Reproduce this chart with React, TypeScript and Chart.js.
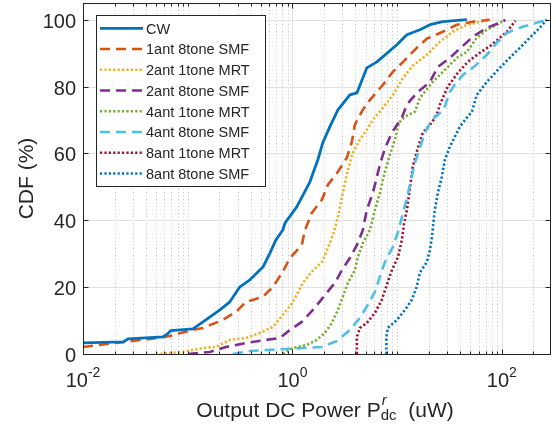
import React, { useEffect, useRef } from "react";
import { Chart, registerables } from "chart.js";

Chart.register(...registerables);

const FONT = '"Liberation Sans", Arial, Helvetica, sans-serif';
const TEXT = "#262626";

const seriesLabels = [
  "CW",
  "1ant 8tone SMF",
  "2ant 1tone MRT",
  "2ant 8tone SMF",
  "4ant 1tone MRT",
  "4ant 8tone SMF",
  "8ant 1tone MRT",
  "8ant 8tone SMF",
];
const seriesColors = ["#0072BD", "#D95319", "#EDB120", "#7E2F8E", "#77AC30", "#4DBEEE", "#A2142F", "#0072BD"];
const seriesStyles = ["solid", "dashed", "dotted", "dashed", "dotted", "dashed", "dotted", "dotted"];

const cwPower = [0.01, 0.0241, 0.0269, 0.058, 0.064, 0.069, 0.112, 0.149, 0.203, 0.253, 0.315, 0.393, 0.523, 0.61, 0.695, 0.81, 0.85, 1.1, 1.47, 1.75, 1.95, 2.28, 2.72, 3.54, 4.13, 5.14, 6.41, 9.95, 12.4, 16.5, 20.6, 27.3, 46.4];
const cwCdf = [3.3, 3.6, 4.5, 5.1, 6.0, 7.0, 7.5, 10.2, 13.2, 15.6, 20.1, 22.2, 26, 30.2, 34.1, 37.1, 39.2, 44, 51.5, 58.1, 63.2, 68, 73, 77.5, 78.1, 85.6, 87.4, 92.5, 95.5, 97, 98.5, 99.4, 100];

const smf1aPower = [0.01, 0.0206, 0.0437, 0.0678, 0.112, 0.14, 0.217, 0.289, 0.36, 0.523, 0.651, 0.81, 0.946, 1.23, 1.32, 1.53, 1.91, 2.18, 2.72, 3.31, 3.7, 3.95, 4.71, 5.5, 7.31, 9.1, 11.4, 15.4, 19.2, 27.3, 37.2, 52.8, 76.8];
const smf1aCdf = [2.1, 3.3, 4.5, 5.4, 7.2, 7.8, 10.2, 12.6, 15.6, 17.1, 20.1, 24.6, 28.7, 32.6, 37.1, 42.2, 46.1, 50.6, 54.5, 58.7, 63.5, 68.6, 73.1, 76, 80.5, 84.4, 87.4, 91.6, 94.3, 96.4, 98.5, 99.4, 100];

const mrt2aPower = [0.0498, 0.09, 0.14, 0.186, 0.253, 0.36, 0.49, 0.651, 0.81, 0.968, 1.1, 1.26, 1.53, 1.91, 2.18, 2.44, 2.72, 3.03, 3.39, 3.78, 4.41, 5.14, 5.87, 6.84, 9.1, 11.4, 14.1, 19.2, 25.6, 34.0, 46.4, 61.7, 76.8];
const mrt2aCdf = [0, 0.6, 1.8, 2.1, 4.2, 4.8, 6.3, 8.1, 11.7, 14.7, 17.7, 21.3, 24.6, 27.5, 31.7, 35.6, 41, 48.2, 55.1, 60.2, 64.1, 67.1, 70.1, 72.5, 77.5, 82.6, 86.2, 89.5, 93.4, 96.4, 98.5, 99.4, 100];

const smf2aPower = [0.1005, 0.163, 0.232, 0.36, 0.558, 0.76, 0.946, 1.23, 1.57, 1.95, 2.55, 2.97, 3.54, 4.13, 4.71, 5.14, 5.87, 6.84, 7.64, 8.91, 11.1, 12.4, 15.4, 20.6, 24.5, 31.9, 41.5, 52.8, 72.0, 102, 108];
const smf2aCdf = [0, 0.6, 2.1, 3.3, 4.2, 4.8, 7.2, 9.6, 13.2, 16.8, 21.3, 25.1, 28.7, 32.6, 37.1, 43.1, 48.2, 56.6, 61.4, 66.2, 70.7, 74.6, 78.1, 81.4, 85.9, 88.6, 91.9, 94.9, 97.6, 99.4, 100];

const mrt4aPower = [0.81, 1.01, 1.37, 1.71, 2.04, 2.38, 2.72, 3.03, 3.39, 3.95, 4.22, 4.71, 5.5, 6.14, 6.84, 7.64, 8.53, 9.52, 10.4, 11.9, 14.8, 16.5, 21.9, 29.9, 37.2, 46.4, 57.7, 72.0, 89.6, 107];
const mrt4aCdf = [0, 1.8, 2.7, 4.2, 6.3, 9.3, 13.2, 17.1, 21.3, 25.1, 29, 33.2, 37.1, 43.1, 48.2, 54.5, 59.6, 64.1, 69.2, 71, 72.5, 76.6, 81.4, 85.6, 88.6, 90.4, 94.6, 97, 98.5, 100];

const smf4aPower = [0.27, 0.393, 0.583, 0.885, 1.26, 1.91, 2.66, 3.54, 4.41, 5.26, 6.14, 6.84, 7.64, 9.1, 10.2, 12.4, 13.8, 14.8, 16.5, 18.4, 21.5, 27.9, 31.9, 36.4, 42.5, 52.8, 72.0, 89.6, 112, 158, 216, 269];
const smf4aCdf = [0, 0.9, 1.2, 1.5, 1.8, 2.1, 3.9, 7.2, 10.8, 14.7, 18.6, 23.1, 27.5, 32, 36.5, 46.7, 53, 57.2, 61.7, 66.2, 70.1, 73.1, 78.4, 81.1, 83.5, 85.6, 89.5, 93.1, 96.1, 97.9, 99.1, 100];

const mrt8aPower = [4.13, 4.13, 4.41, 5.14, 6.14, 7.14, 7.98, 8.91, 10.2, 11.1, 11.6, 12.4, 13.2, 14.1, 15.8, 17.6, 21.5, 24.5, 25.6, 30.5, 38.0, 47.3, 61.7, 80.4, 95.7, 112, 135];
const mrt8aCdf = [0, 5.1, 7.8, 9.3, 12.3, 16.2, 20.7, 25.1, 29, 34.1, 38.6, 43.1, 49.1, 56, 61.7, 66.2, 69.2, 72.5, 74.6, 80, 84.1, 87.4, 90.1, 92.5, 94.6, 96.4, 99.7];

const smf8aPower = [7.9, 7.9, 8.16, 9.95, 11.9, 13.8, 15.4, 16.5, 19.2, 20.6, 21.5, 22.9, 24.5, 26.7, 28.6, 31.9, 35.6, 39.7, 46.4, 51.8, 57.7, 72.0, 95.7, 119, 149, 185, 231, 269];
const smf8aCdf = [0, 5.1, 7.8, 10.2, 13.2, 16.2, 20.1, 24.3, 27.5, 31.1, 35, 43.1, 48.2, 53, 58.1, 62, 65, 68, 70.7, 72.5, 77.5, 81.4, 85.6, 88.6, 91.6, 94.6, 97.6, 100];

const seriesPower = [cwPower, smf1aPower, mrt2aPower, smf2aPower, mrt4aPower, smf4aPower, mrt8aPower, smf8aPower];
const seriesCdf = [cwCdf, smf1aCdf, mrt2aCdf, smf2aCdf, mrt4aCdf, smf4aCdf, mrt8aCdf, smf8aCdf];

const xMin = 0.01;
const xMax = 295;
const yMin = 0;
const yMax = 105;
const xMajorExponents = [-2, 0, 2];
const yTickValues = [0, 20, 40, 60, 80, 100];

const dashFor = (s: string) => (s === "dashed" ? [10, 6] : s === "dotted" ? [2.2, 2.2] : []);

const matlabPlugin = {
  id: "matlabAxes",
  beforeDatasetsDraw(chart: any) {
    const { ctx, chartArea: a, scales } = chart;
    const x = scales.x;
    const y = scales.y;
    ctx.save();
    ctx.beginPath();
    ctx.rect(a.left, a.top, a.right - a.left, a.bottom - a.top);
    ctx.clip();
    // minor x grid
    ctx.lineWidth = 1;
    ctx.strokeStyle = "#c4c4c4";
    ctx.setLineDash([1, 2.5]);
    for (let e = -3; e <= 3; e++) {
      for (let m = 1; m <= 9; m++) {
        const v = m * Math.pow(10, e);
        if (v <= xMin || v >= xMax) continue;
        if (m === 1 && xMajorExponents.includes(e)) continue;
        const px = Math.round(x.getPixelForValue(v)) + 0.5;
        ctx.beginPath();
        ctx.moveTo(px, a.top);
        ctx.lineTo(px, a.bottom);
        ctx.stroke();
      }
    }
    ctx.setLineDash([]);
    ctx.strokeStyle = "#e2e2e2";
    for (const e of xMajorExponents) {
      const v = Math.pow(10, e);
      if (v <= xMin || v >= xMax) continue;
      const px = Math.round(x.getPixelForValue(v)) + 0.5;
      ctx.beginPath();
      ctx.moveTo(px, a.top);
      ctx.lineTo(px, a.bottom);
      ctx.stroke();
    }
    for (const t of yTickValues) {
      if (t <= yMin) continue;
      const py = Math.round(y.getPixelForValue(t)) + 0.5;
      ctx.beginPath();
      ctx.moveTo(a.left, py);
      ctx.lineTo(a.right, py);
      ctx.stroke();
    }
    ctx.restore();
  },
  afterDraw(chart: any) {
    const { ctx, chartArea: a, scales } = chart;
    const x = scales.x;
    const y = scales.y;
    ctx.save();
    ctx.strokeStyle = TEXT;
    ctx.lineWidth = 1;
    ctx.setLineDash([]);
    const L = Math.round(a.left) + 0.5;
    const R = Math.round(a.right) - 0.5;
    const T = Math.round(a.top) + 0.5;
    const B = Math.round(a.bottom) + 0.5;
    ctx.strokeRect(L, T, R - L, B - T);
    // x ticks
    for (let e = -3; e <= 3; e++) {
      for (let m = 1; m <= 9; m++) {
        const v = m * Math.pow(10, e);
        if (v < xMin || v > xMax) continue;
        const major = m === 1 && xMajorExponents.includes(e);
        const len = major ? 5 : 3;
        const px = Math.round(x.getPixelForValue(v)) + 0.5;
        ctx.beginPath();
        ctx.moveTo(px, B);
        ctx.lineTo(px, B - len);
        ctx.moveTo(px, T);
        ctx.lineTo(px, T + len);
        ctx.stroke();
      }
    }
    for (const t of yTickValues) {
      const py = Math.round(y.getPixelForValue(t)) + 0.5;
      ctx.beginPath();
      ctx.moveTo(L, py);
      ctx.lineTo(L + 5, py);
      ctx.moveTo(R, py);
      ctx.lineTo(R - 5, py);
      ctx.stroke();
    }
    // tick labels
    ctx.fillStyle = TEXT;
    ctx.textBaseline = "alphabetic";
    ctx.textAlign = "right";
    ctx.font = `20px ${FONT}`;
    for (const t of yTickValues) {
      const py = y.getPixelForValue(t);
      ctx.fillText(String(t), a.left - 7, py + 8);
    }
    ctx.textAlign = "left";
    for (const e of xMajorExponents) {
      const px = x.getPixelForValue(Math.pow(10, e));
      ctx.font = `20px ${FONT}`;
      const wb = ctx.measureText("10").width;
      ctx.font = `14px ${FONT}`;
      const es = String(e);
      const we = ctx.measureText(es).width;
      const start = px - (wb + we) / 2;
      ctx.font = `20px ${FONT}`;
      ctx.fillText("10", start, 387);
      ctx.font = `14px ${FONT}`;
      ctx.fillText(es, start + wb, 377);
    }
    // x label
    const p1 = "Output DC Power P";
    const p2 = "  (uW)";
    ctx.font = `21px ${FONT}`;
    const w1 = ctx.measureText(p1).width;
    const w2 = ctx.measureText(p2).width;
    ctx.font = `italic 15px ${FONT}`;
    const wr = ctx.measureText("r").width;
    ctx.font = `15px ${FONT}`;
    const wdc = ctx.measureText("dc").width;
    const ws = Math.max(wr, wdc);
    const total = w1 + ws + w2;
    const cx = (a.left + a.right) / 2 + 8;
    let sx = cx - total / 2;
    ctx.font = `21px ${FONT}`;
    ctx.fillText(p1, sx, 417);
    ctx.font = `italic 15px ${FONT}`;
    ctx.fillText("r", sx + w1 + 1, 405);
    ctx.font = `15px ${FONT}`;
    ctx.fillText("dc", sx + w1, 420);
    ctx.font = `21px ${FONT}`;
    ctx.fillText(p2, sx + w1 + ws, 417);
    // y label
    ctx.save();
    ctx.translate(33, (a.top + a.bottom) / 2);
    ctx.rotate(-Math.PI / 2);
    ctx.textAlign = "center";
    ctx.font = `21px ${FONT}`;
    ctx.fillText("CDF (%)", 0, 0);
    ctx.restore();
    // legend
    const lx = a.left + 13;
    const ly = a.top + 12;
    const lw = 169;
    const lh = 171;
    ctx.fillStyle = "#ffffff";
    ctx.fillRect(lx, ly, lw, lh);
    ctx.strokeStyle = TEXT;
    ctx.lineWidth = 1;
    ctx.strokeRect(Math.round(lx) + 0.5, Math.round(ly) + 0.5, lw, lh);
    chart.data.datasets.forEach((ds: any, i: number) => {
      const cy = ly + 13.3 + i * 20.75;
      ctx.beginPath();
      ctx.strokeStyle = ds.borderColor;
      ctx.lineWidth = ds.borderWidth;
      ctx.lineCap = "butt";
      ctx.setLineDash(ds.borderDash || []);
      ctx.moveTo(lx + 4, cy);
      ctx.lineTo(lx + 47, cy);
      ctx.stroke();
      ctx.setLineDash([]);
      ctx.fillStyle = TEXT;
      ctx.font = `14.5px ${FONT}`;
      ctx.textAlign = "left";
      ctx.fillText(ds.label, lx + 50, cy + 5.2);
    });
    ctx.restore();
  },
};

export default function App() {
  const ref = useRef<HTMLCanvasElement>(null);
  useEffect(() => {
    document.body.style.margin = "0";
    const canvas = ref.current;
    if (!canvas) return;
    const datasets = seriesLabels.map((label, i) => ({
      label,
      data: seriesPower[i].map((p, k) => ({ x: p, y: seriesCdf[i][k] })),
      borderColor: seriesColors[i],
      backgroundColor: seriesColors[i],
      borderWidth: i === 0 ? 2.8 : 2.6,
      borderDash: dashFor(seriesStyles[i]),
      borderCapStyle: "butt",
      borderJoinStyle: "round",
      pointRadius: 0,
      tension: 0,
      fill: false,
    }));
    const chart = new Chart(canvas, {
      type: "line",
      data: { datasets } as any,
      options: {
        animation: false,
        responsive: false,
        events: [],
        layout: { padding: { left: 83, right: 5, top: 3, bottom: 77 } },
        scales: {
          x: { type: "logarithmic", min: xMin, max: xMax, display: false },
          y: { type: "linear", min: yMin, max: yMax, display: false },
        },
        plugins: { legend: { display: false }, tooltip: { enabled: false } },
      } as any,
      plugins: [matlabPlugin],
    });
    return () => chart.destroy();
  }, []);
  return (
    <div style={{ width: 556, height: 431, background: "#fff" }}>
      <canvas ref={ref} width={556} height={431} style={{ display: "block" }} />
    </div>
  );
}
